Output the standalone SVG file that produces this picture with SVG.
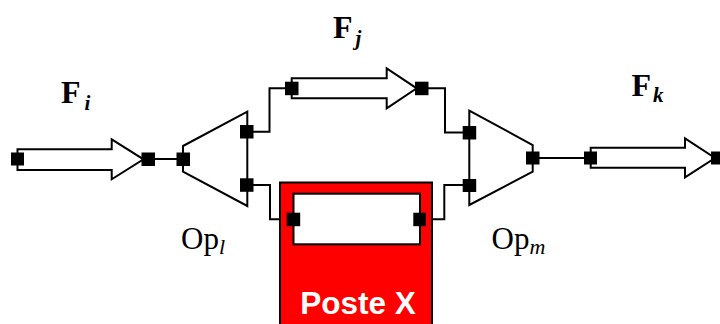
<svg xmlns="http://www.w3.org/2000/svg" width="720" height="324" viewBox="0 0 720 324">
<style>
.ln{fill:none;stroke:#000;stroke-width:2}
.arr{fill:#fff;stroke:#000;stroke-width:2;stroke-linejoin:miter}
.op{fill:#fff;stroke:#000;stroke-width:2}
.pt{fill:#000}
.lbF{font-family:"Liberation Serif",serif;font-weight:bold;font-size:32px;fill:#000}
.sub{font-family:"Liberation Serif",serif;font-weight:bold;font-style:italic;font-size:21px}
.lbO{font-family:"Liberation Serif",serif;font-size:31px;fill:#000}
.subO{font-family:"Liberation Serif",serif;font-style:italic;font-size:22px}
</style>
<g id="connectors">
<line class="ln" x1="155" y1="159" x2="183" y2="159"/>
<polyline class="ln" points="247,131.7 269.5,131.7 269.5,88.3 292,88.3"/>
<polyline class="ln" points="422,88.3 445,88.3 445,132.5 469,132.5"/>
<polyline class="ln" points="247,185 270,185 270,219.3 293,219.3"/>
<polyline class="ln" points="420,219.3 444.3,219.3 444.3,185 469,185"/>
<line class="ln" x1="533" y1="158" x2="590" y2="158"/>
</g>
<g id="poste">
<rect x="280" y="182.5" width="152" height="150" fill="#ff0000" stroke="#000" stroke-width="2"/>
<text x="358" y="314" text-anchor="middle" font-family="Liberation Sans,Arial,sans-serif" font-weight="bold" font-size="31.5" fill="#fff">Poste X</text>
</g>
<g id="Fi">
<polygon class="arr" points="17.5,149.3 111.7,149.3 111.7,139.3 143.5,159.3 111.7,179.3 111.7,170 17.5,170"/>
<rect class="pt" x="11" y="152.5" width="13" height="13"/>
<rect class="pt" x="141.5" y="152.5" width="13.5" height="13.5"/>
<text class="lbF" x="61" y="103.3">F<tspan class="sub" dx="4" dy="7">i</tspan></text>
</g>
<g id="Opl">
<polygon class="op" points="183,146 247.3,111.7 247.3,206 183,171.7"/>
<rect class="pt" x="176.5" y="152.5" width="13.5" height="13.5"/>
<rect class="pt" x="240" y="125" width="13.5" height="13.5"/>
<rect class="pt" x="240" y="178.3" width="13.5" height="13.5"/>
<text class="lbO" x="181" y="249.3">Op<tspan class="subO" dy="5">l</tspan></text>
</g>
<g id="Fj">
<polygon class="arr" points="291.7,78.3 386.7,78.3 386.7,68.3 416.7,88.3 386.7,108.3 386.7,98.3 291.7,98.3"/>
<rect class="pt" x="285" y="81.7" width="13.5" height="13.5"/>
<rect class="pt" x="415" y="81.7" width="13.5" height="13.5"/>
<text class="lbF" x="333" y="38.3">F<tspan class="sub" dx="3" dy="7">j</tspan></text>
</g>
<g id="inner">
<rect x="293.5" y="193.7" width="126.5" height="50.6" fill="#fff" stroke="#000" stroke-width="2"/>
<rect class="pt" x="286.7" y="212.7" width="13.5" height="13.5"/>
<rect class="pt" x="413.3" y="212.7" width="12.5" height="13.5"/>
</g>
<g id="Opm">
<polygon class="op" points="469.3,110.7 532.7,145 532.7,171.7 469.3,205"/>
<rect class="pt" x="462.7" y="126" width="13.5" height="13.5"/>
<rect class="pt" x="462.7" y="179" width="13.5" height="13"/>
<rect class="pt" x="526" y="151.5" width="13.5" height="13"/>
<text class="lbO" x="491.5" y="249.3">Op<tspan class="subO" dy="5">m</tspan></text>
</g>
<g id="Fk">
<polygon class="arr" points="590.7,147.7 685,147.7 685,138.3 715,158 685,177.3 685,167.7 590.7,167.7"/>
<rect class="pt" x="584" y="151.5" width="13" height="13"/>
<rect class="pt" x="711" y="151.5" width="13" height="13"/>
<text class="lbF" x="631.5" y="96">F<tspan class="sub" dx="2" dy="6">k</tspan></text>
</g>
</svg>
